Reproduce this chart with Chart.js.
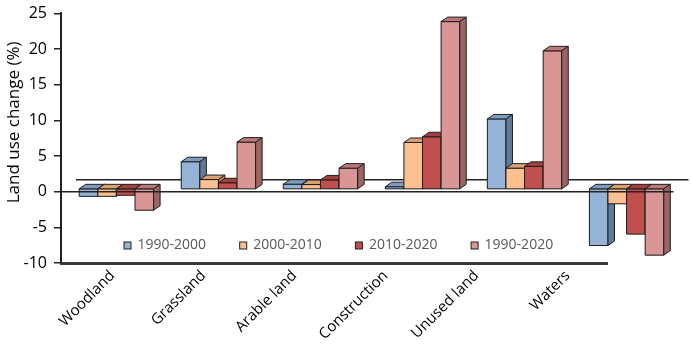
<!DOCTYPE html>
<html><head><meta charset="utf-8">
<script src="https://cdn.jsdelivr.net/npm/chart.js@4.4.1/dist/chart.umd.min.js"></script>
<style>html,body{margin:0;padding:0;background:#fff;}#wrap{width:692px;height:350px;position:relative}</style>
</head><body><div id="wrap"><canvas id="c" width="692" height="350"></canvas></div>
<script>
// ---- data ----
const categories = ['Woodland', 'Grassland', 'Arable land', 'Construction', 'Unused land', 'Waters'];
const seriesLabels = ['1990-2000', '2000-2010', '2010-2020', '1990-2020'];
const s1990_2000 = [-1.05, 3.8, 0.65, 0.3, 9.8, -7.95];
const s2000_2010 = [-1.05, 1.3, 0.6, 6.5, 2.9, -2.1];
const s2010_2020 = [-0.9, 0.85, 1.25, 7.3, 3.15, -6.35];
const s1990_2020 = [-3.0, 6.55, 2.9, 23.45, 19.35, -9.3];
const yTicks = [-10, -5, 0, 5, 10, 15, 20, 25];

// ---- styles ----
const frontColors = ['#95B3D7', '#FAC090', '#C0504D', '#D99694'];
const topColors = ['#7E9BC0', '#D9A170', '#A3403D', '#BC7977'];
const sideColors = ['#627A99', '#B98858', '#8A3331', '#9C6462'];
const FONT = 'Open Sans';
const seriesValues = [s1990_2000, s2000_2010, s2010_2020, s1990_2020];

const datasets = seriesValues.map((vals, k) => ({
  label: seriesLabels[k],
  data: vals.map((v, i) => ({ x: i, y: v })),
  xAxisID: 'xb', yAxisID: 'yb',
  backgroundColor: frontColors[k],
  topColor: topColors[k], sideColor: sideColors[k],
  borderWidth: 0,
  categoryPercentage: 0.729, barPercentage: 1,
  clip: false
}));

const DX = 6.5, DY = 4.5;

const floorBack = {
  id: 'floorBack',
  beforeDatasetsDraw(chart) {
    const ctx = chart.ctx, y = chart.scales.y, xb = chart.scales.xb;
    const y0 = y.getPixelForValue(0);
    ctx.save();
    ctx.strokeStyle = '#222'; ctx.lineWidth = 1.5;
    ctx.beginPath();
    ctx.moveTo(chart.chartArea.left + 15, y0 - 12);
    ctx.lineTo(xb.getPixelForValue(5.46) + 15, y0 - 12);
    ctx.stroke();
    ctx.restore();
  }
};

const bars3d = {
  id: 'bars3d',
  afterDatasetsDraw(chart) {
    const ctx = chart.ctx;
    const poly = (pts, fill) => {
      ctx.beginPath();
      ctx.moveTo(pts[0][0], pts[0][1]);
      for (let i = 1; i < pts.length; i++) ctx.lineTo(pts[i][0], pts[i][1]);
      ctx.closePath();
      ctx.fillStyle = fill; ctx.fill(); ctx.stroke();
    };
    ctx.save();
    ctx.lineWidth = 1; ctx.strokeStyle = '#1e1e1e'; ctx.lineJoin = 'miter';
    chart.data.datasets.forEach((ds, k) => {
      const meta = chart.getDatasetMeta(k);
      meta.data.forEach(el => {
        const p = el.getProps(['x', 'y', 'base', 'width'], true);
        const l = p.x - p.width / 2, r = p.x + p.width / 2;
        const t = Math.min(p.y, p.base), b = Math.max(p.y, p.base);
        poly([[l, t], [r, t], [r, b], [l, b]], ds.backgroundColor);
        poly([[l, t], [l + DX, t - DY], [r + DX, t - DY], [r, t]], ds.topColor);
        poly([[r, t], [r + DX, t - DY], [r + DX, b - DY], [r, b]], ds.sideColor);
      });
    });
    // front floor edge at zero
    const y0 = chart.scales.y.getPixelForValue(0);
    ctx.strokeStyle = '#222'; ctx.lineWidth = 1.5;
    ctx.beginPath();
    ctx.moveTo(chart.chartArea.left, y0);
    ctx.lineTo(chart.scales.xb.getPixelForValue(5.46), y0);
    ctx.stroke();
    ctx.restore();
  }
};

const extras = {
  id: 'extras',
  afterDraw(chart) {
    const ctx = chart.ctx, ca = chart.chartArea;
    ctx.save();
    // y axis title
    ctx.translate(14, ca.top + 109);
    ctx.rotate(-Math.PI / 2);
    ctx.font = '17px "' + FONT + '"';
    ctx.fillStyle = '#000';
    ctx.textAlign = 'center'; ctx.textBaseline = 'middle';
    ctx.fillText('Land use change (%)', 0, 0);
    ctx.restore();
    // legend
    ctx.save();
    ctx.font = '14px "' + FONT + '"';
    ctx.textBaseline = 'middle'; ctx.textAlign = 'left';
    const ly = ca.bottom - 17.5;
    chart.data.datasets.forEach((ds, k) => {
      const bx = ca.left + 63 + k * 115.7;
      ctx.fillStyle = ds.backgroundColor;
      ctx.fillRect(bx, ly - 3.5, 7, 7);
      ctx.strokeStyle = '#1e1e1e'; ctx.lineWidth = 1;
      ctx.strokeRect(bx, ly - 3.5, 7, 7);
      ctx.fillStyle = '#595959';
      ctx.fillText(ds.label, bx + 13.5, ly);
    });
    ctx.restore();
  }
};

new Chart(document.getElementById('c'), {
  type: 'bar',
  data: { labels: categories, datasets },
  options: {
    responsive: false, animation: false, devicePixelRatio: 1,
    layout: { padding: { top: 7, right: 85, bottom: 0, left: 0 } },
    plugins: { legend: { display: false }, tooltip: { enabled: false } },
    scales: {
      x: {
        type: 'category', labels: categories, position: 'bottom', offset: true,
        grid: { display: false, drawTicks: false },
        border: { display: true, color: '#383838', width: 3 },
        ticks: { autoSkip: false, maxRotation: 45, minRotation: 45, padding: 4, labelOffset: 6,
          font: { family: FONT, size: 15 }, color: '#000' },
        afterFit: s => { s.height = 87; }
      },
      xb: {
        type: 'linear', display: false, offset: false, min: -0.543, max: 4.808,
        afterBuildTicks: s => { s.ticks = categories.map((c, i) => ({ value: i })); }
      },
      y: {
        type: 'linear', position: 'left', min: -10, max: 25,
        afterBuildTicks: s => { s.ticks = yTicks.map(v => ({ value: v })); },
        ticks: { padding: 7, font: { family: FONT, size: 16, lineHeight: 0.8 }, color: '#000' },
        grid: { drawOnChartArea: false, drawTicks: true, tickLength: 7, color: '#222', lineWidth: 1.5 },
        border: { display: true, color: '#222', width: 2 },
        afterFit: s => { s.width = 61; }
      },
      yb: { type: 'linear', display: false, min: -10.4, max: 24.6 }
    }
  },
  plugins: [floorBack, bars3d, extras]
});
</script>
</body></html>
